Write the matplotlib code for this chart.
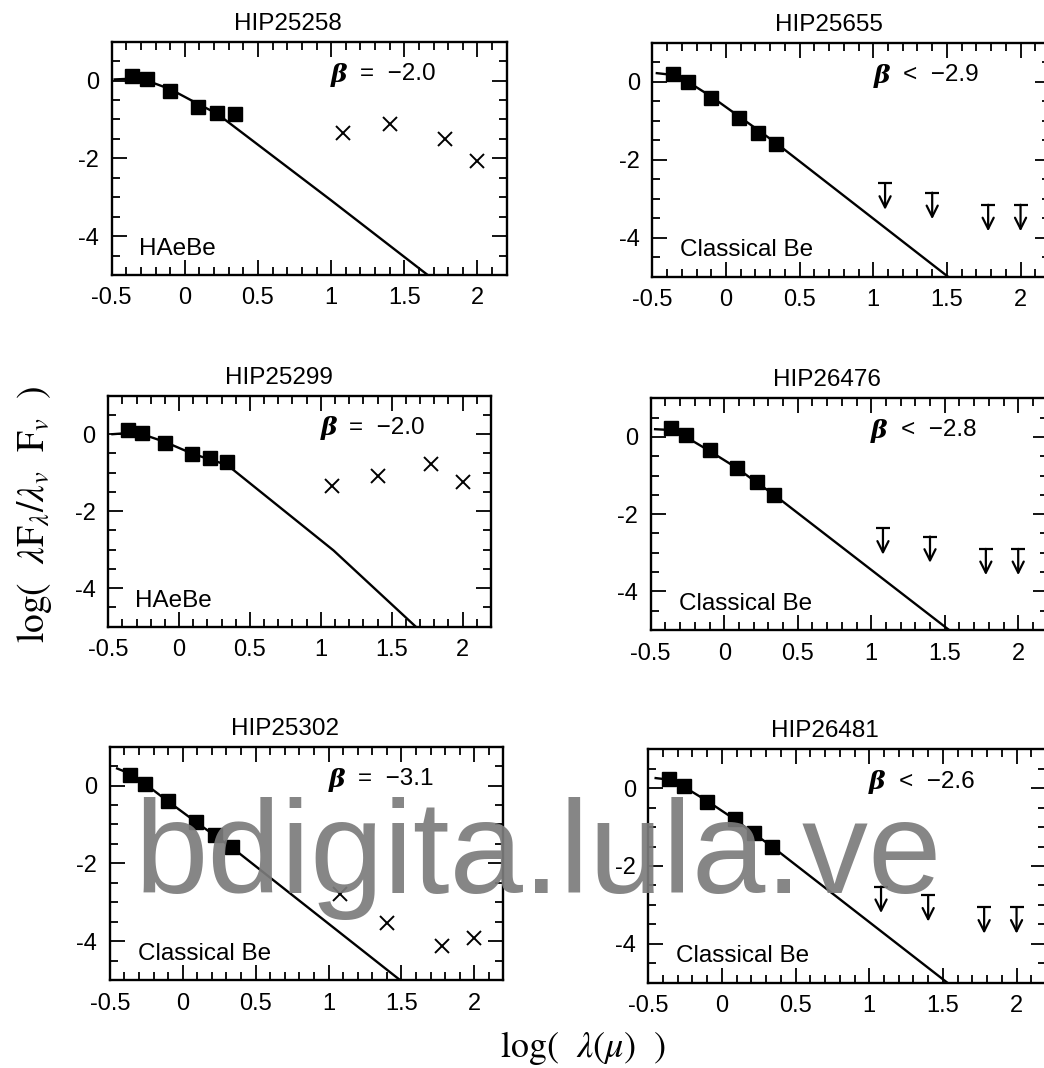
import matplotlib
matplotlib.use("Agg")
import matplotlib.pyplot as plt
from matplotlib.ticker import MultipleLocator, FormatStrFormatter

plt.rcParams['font.family'] = ['Liberation Sans', 'DejaVu Sans']
plt.rcParams['axes.unicode_minus'] = False
plt.rcParams['mathtext.fontset'] = 'stix'

# wavelengths (log micron): B V I J H K and IRAS 12 25 60 100
lam_opt = [-0.36, -0.26, -0.10, 0.09, 0.22, 0.34]
lam_iras = [1.08, 1.40, 1.78, 2.00]

names = ['HIP25258', 'HIP25655', 'HIP25299', 'HIP26476', 'HIP25302', 'HIP26481']
betas = ['=  \u22122.0', '<  \u22122.9', '=  \u22122.0', '<  \u22122.8', '=  \u22123.1', '<  \u22122.6']
classes = ['HAeBe', 'Classical Be', 'HAeBe', 'Classical Be', 'Classical Be', 'Classical Be']
is_limit = [False, True, False, True, False, True]

opt_25258 = [0.13, 0.03, -0.27, -0.68, -0.83, -0.85]
ir_25258 = [-1.34, -1.12, -1.49, -2.06]
mx_25258 = [-0.48, -0.36, -0.26, -0.10, 0.09, 0.22, 1.00, 1.66]
my_25258 = [0.03, 0.05, 0.0, -0.22, -0.60, -0.85, -3.08, -5.0]

opt_25655 = [0.20, 0.00, -0.41, -0.94, -1.30, -1.60]
ir_25655 = [-2.60, -2.84, -3.15, -3.15]
mx_25655 = [-0.47, -0.35, -0.26, -0.10, 0.10, 0.23, 0.35, 1.51]
my_25655 = [0.22, 0.17, 0.0, -0.38, -0.92, -1.27, -1.60, -5.0]

opt_25299 = [0.10, 0.03, -0.24, -0.52, -0.62, -0.72]
ir_25299 = [-1.34, -1.08, -0.78, -1.25]
mx_25299 = [-0.47, -0.36, -0.26, -0.10, 0.09, 0.22, 0.34, 1.09, 1.67]
my_25299 = [0.0, 0.03, 0.0, -0.20, -0.50, -0.66, -0.80, -3.02, -5.0]

opt_26476 = [0.24, 0.05, -0.34, -0.81, -1.16, -1.50]
ir_26476 = [-2.37, -2.58, -2.90, -2.90]
mx_26476 = [-0.47, -0.37, -0.27, -0.11, 0.084, 0.21, 0.34, 1.53]
my_26476 = [0.20, 0.18, 0.02, -0.34, -0.80, -1.15, -1.50, -5.0]

opt_25302 = [0.27, 0.04, -0.39, -0.93, -1.27, -1.57]
ir_25302 = [-2.80, -3.54, -4.13, -3.93]
mx_25302 = [-0.45, -0.37, -0.26, -0.11, 0.085, 0.21, 0.34, 1.49]
my_25302 = [0.44, 0.32, 0.05, -0.38, -0.92, -1.26, -1.60, -5.0]

opt_26481 = [0.23, 0.06, -0.35, -0.79, -1.16, -1.50]
ir_26481 = [-2.53, -2.75, -3.06, -3.06]
mx_26481 = [-0.45, -0.36, -0.26, -0.10, 0.086, 0.21, 0.34, 1.53]
my_26481 = [0.26, 0.22, 0.04, -0.33, -0.80, -1.15, -1.50, -5.0]

opts = [opt_25258, opt_25655, opt_25299, opt_26476, opt_25302, opt_26481]
irs = [ir_25258, ir_25655, ir_25299, ir_26476, ir_25302, ir_26481]
mxs = [mx_25258, mx_25655, mx_25299, mx_26476, mx_25302, mx_26481]
mys = [my_25258, my_25655, my_25299, my_26476, my_25302, my_26481]

W, H = 1044, 1068
# axes boxes in pixels: left, top, right, bottom
boxes = [(111.7, 41.7, 506.7, 275.0),
         (652.4, 42.7, 1050.0, 277.0),
         (108.2, 395.7, 490.9, 626.7),
         (650.7, 398.3, 1047.6, 630.0),
         (109.8, 746.7, 503.5, 980.0),
         (648.3, 749.3, 1046.0, 982.7)]

fig = plt.figure(figsize=(W / 100, H / 100), dpi=100)

for i in range(6):
    l, t, r, b = boxes[i]
    ax = fig.add_axes([l / W, 1 - b / H, (r - l) / W, (b - t) / H])
    ax.set_xlim(-0.5, 2.2)
    ax.set_ylim(-5, 1)
    ax.xaxis.set_major_locator(MultipleLocator(0.5))
    ax.xaxis.set_minor_locator(MultipleLocator(0.1))
    ax.yaxis.set_major_locator(MultipleLocator(2))
    ax.yaxis.set_minor_locator(MultipleLocator(0.5))
    ax.xaxis.set_major_formatter(FormatStrFormatter('%g'))
    ax.yaxis.set_major_formatter(FormatStrFormatter('%g'))
    ax.tick_params(which='both', direction='in', top=True, right=True, width=1.3)
    ax.tick_params(which='major', length=11, labelsize=17, pad=9)
    ax.tick_params(which='minor', length=6)
    for s in ax.spines.values():
        s.set_linewidth(1.7)

    ax.plot(mxs[i], mys[i], color='black', lw=1.7)
    ax.plot(lam_opt, opts[i], 's', color='black', ms=10.5)
    if is_limit[i]:
        for x, y in zip(lam_iras, irs[i]):
            ax.annotate('', xy=(x, y - 0.68), xytext=(x, y),
                        arrowprops=dict(arrowstyle='->', lw=1.6, color='black',
                                        shrinkA=0, shrinkB=0, mutation_scale=20))
            ax.plot([x], [y], marker='_', color='black', ms=10, mew=1.6)
    else:
        ax.plot(lam_iras, irs[i], 'x', color='black', ms=10, mew=1.4)

    ax.text(0.445, 1.03, names[i], transform=ax.transAxes, ha='center',
            va='bottom', fontsize=17.5)
    ax.text(1.0, 0.15, '\u03b2', fontsize=18, fontweight='bold', fontstyle='italic',
            family='DejaVu Serif', ha='left', va='center')
    ax.text(1.2, 0.17, betas[i], fontsize=17.5, ha='left', va='center')
    ax.text(-0.31, -4.32, classes[i], fontsize=17.5, ha='left', va='center')

fig.text(35 / W, 1 - 514 / H, r'log(  $\lambda$F$_\lambda$/$\lambda_v$  F$_v$  )',
         rotation=90, ha='center', va='center', fontsize=27, family='STIXGeneral')
fig.text(583 / W, 1 - 1048 / H, r'log(  $\lambda(\mu)$  )',
         ha='center', va='center', fontsize=26, family='STIXGeneral')

fig.text(135 / W, 1 - 893 / H, 'bdigita.lula.ve', fontsize=95, color='#7c7c7c',
         alpha=0.92, ha='left', va='baseline', family='Liberation Sans', zorder=10)

fig.savefig('out.png', dpi=100)
